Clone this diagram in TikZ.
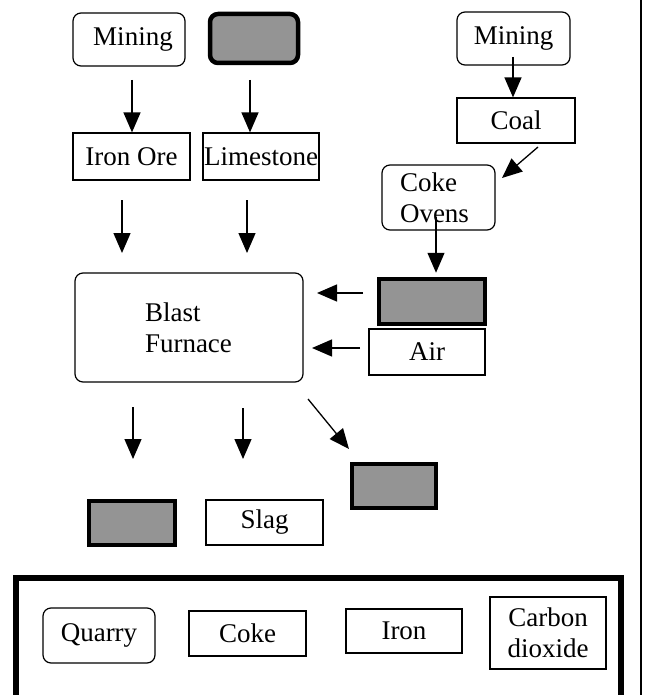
\documentclass[tikz,border=0pt]{standalone}
\usepackage{fontspec}
\setmainfont{Liberation Serif}
\usetikzlibrary{arrows.meta,calc}
\definecolor{stipple}{gray}{0.58}
\begin{document}
\begin{tikzpicture}[x=1pt,y=-1pt,
  every node/.style={inner sep=0pt, font=\fontsize{27}{31}\selectfont},
  sqbox/.style={draw, line width=1.2pt},
  rbox/.style={draw, line width=1.2pt, rounded corners=8pt},
  graybox/.style={draw, line width=4.5pt, fill=stipple},
  arr/.style={line width=1.3pt, -{Triangle[length=20pt,width=17pt]}}
]
\useasboundingbox (0,0) rectangle (645,695);

% page line and legend frame
\draw[line width=2pt] (641,0) -- (641,695);
\draw[line width=5.5pt] (16,695) -- (16,578) -- (621,578) -- (621,695);

% top row
\node[rbox, minimum width=112pt, minimum height=53pt] (mining1) at (129,39.5) {\hspace{8pt}Mining};
\node[graybox, rounded corners=8pt, minimum width=88pt, minimum height=49pt] (gray1) at (254,38.5) {};
\node[rbox, minimum width=113pt, minimum height=53pt] (mining2) at (513.5,38.5) {Mining};

\node[sqbox, minimum width=117pt, minimum height=47pt] (ironore) at (131.5,156.5) {Iron Ore};
\node[sqbox, minimum width=116pt, minimum height=47pt] (limestone) at (261,156.5) {Limestone};
\node[sqbox, minimum width=118pt, minimum height=45pt] (coal) at (516,120.5) {Coal};
\node[rbox, minimum width=113pt, minimum height=65pt, text width=77pt, align=left] (coke ovens) at (438.5,197.5) {Coke\\Ovens};

% middle
\node[rbox, minimum width=228pt, minimum height=109pt, text width=88pt, align=left] (bf) at (189,327.5) {Blast\\Furnace};
\node[graybox, minimum width=106pt, minimum height=45pt] (gray2) at (432,301.5) {};
\node[sqbox, minimum width=116pt, minimum height=46pt] (air) at (427,352) {Air};

% outputs
\node[graybox, minimum width=84pt, minimum height=44pt] (gray3) at (394,486) {};
\node[graybox, minimum width=86pt, minimum height=44pt] (gray4) at (132,523) {};
\node[sqbox, minimum width=117pt, minimum height=45pt] (slag) at (264.5,522.5) {Slag};

% legend
\node[rbox, minimum width=112pt, minimum height=55pt] (quarry) at (99,635.5) {Quarry};
\node[sqbox, minimum width=117pt, minimum height=45pt] (coke) at (247.5,633.5) {Coke};
\node[sqbox, minimum width=116pt, minimum height=44pt] (iron) at (404,631) {Iron};
\node[sqbox, minimum width=116pt, minimum height=72pt, align=center] (co2) at (548,633) {Carbon\\dioxide};

% arrow end coordinates
\coordinate (a1) at (132,80);
\coordinate (a2) at (250,80);
\coordinate (a3) at (513,57);
\coordinate (a4s) at (538,147);
\coordinate (a4e) at (502,178);
\coordinate (a5s) at (122,200);
\coordinate (a5e) at (122,253);
\coordinate (a6s) at (247,200);
\coordinate (a6e) at (247,253);
\coordinate (a7) at (436,217);
\coordinate (a8s) at (363,293);
\coordinate (a8e) at (317,293);
\coordinate (a9s) at (360,348);
\coordinate (a9e) at (312,348);
\coordinate (a10s) at (133,407);
\coordinate (a10e) at (133,459);
\coordinate (a11s) at (243,408);
\coordinate (a11e) at (243,459);
\coordinate (a12s) at (308,399);
\coordinate (a12e) at (349,449);

\draw[arr] (a1) -- (a1 |- ironore.north);
\draw[arr] (a2) -- (a2 |- limestone.north);
\draw[arr] (a3) -- (a3 |- coal.north);
\draw[arr] (a4s) -- (a4e);
\draw[arr] (a5s) -- (a5e);
\draw[arr] (a6s) -- (a6e);
\draw[arr] (a7) -- ($(a7 |- gray2.north)+(0,-4)$);
\draw[arr] (a8s) -- (a8e);
\draw[arr] (a9s) -- (a9e);
\draw[arr] (a10s) -- (a10e);
\draw[arr] (a11s) -- (a11e);
\draw[arr] (a12s) -- (a12e);
\end{tikzpicture}
\end{document}
